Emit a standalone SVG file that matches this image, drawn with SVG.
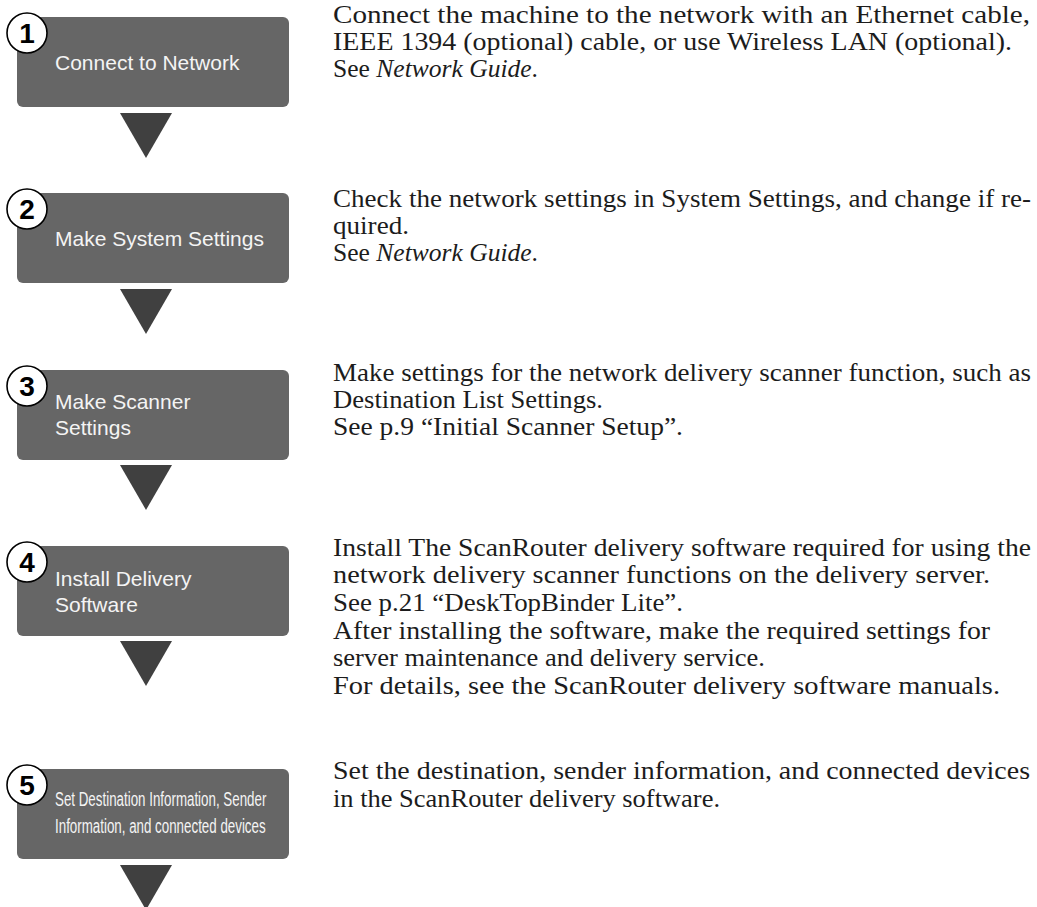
<svg xmlns="http://www.w3.org/2000/svg" width="1037" height="907" viewBox="0 0 1037 907">
<style>
.box{fill:#666666}
.tri{fill:#404040}
.num{fill:#ffffff;stroke:#000000;stroke-width:1.6}
.numt{font-family:"Liberation Sans",Arial,sans-serif;font-weight:bold;font-size:28px;fill:#000;text-anchor:middle}
.bt{font-family:"Liberation Sans",Arial,sans-serif;font-size:21px;fill:#f4f4f4}
.rt{font-family:"Liberation Serif","Times New Roman",serif;font-size:25.5px;fill:#1c1c1c}
.it{font-style:italic}
</style>
<rect width="1037" height="907" fill="#ffffff"/>
<g id="connectors">
<polygon class="tri" points="120,113 172,113 146,158"/>
<polygon class="tri" points="120,289 172,289 146,334"/>
<polygon class="tri" points="120,465 172,465 146,510"/>
<polygon class="tri" points="120,641 172,641 146,686"/>
<polygon class="tri" points="120,865 172,865 146,910"/>
</g>
<g id="step1">
<rect class="box" x="17" y="17" width="272" height="90" rx="6"/>
<circle class="num" cx="27" cy="33" r="20"/>
<text class="numt" x="27" y="43">1</text>
<text class="bt" x="55" y="70">Connect to Network</text>
</g>
<g id="step2">
<rect class="box" x="17" y="193" width="272" height="90" rx="6"/>
<circle class="num" cx="27" cy="209" r="20"/>
<text class="numt" x="27" y="219">2</text>
<text class="bt" x="55" y="246">Make System Settings</text>
</g>
<g id="step3">
<rect class="box" x="17" y="370" width="272" height="90" rx="6"/>
<circle class="num" cx="27" cy="386" r="20"/>
<text class="numt" x="27" y="396">3</text>
<text class="bt" x="55" y="409">Make Scanner</text>
<text class="bt" x="55" y="435">Settings</text>
</g>
<g id="step4">
<rect class="box" x="17" y="546" width="272" height="90" rx="6"/>
<circle class="num" cx="27" cy="562" r="20"/>
<text class="numt" x="27" y="572">4</text>
<text class="bt" x="55" y="586">Install Delivery</text>
<text class="bt" x="55" y="612">Software</text>
</g>
<g id="step5">
<rect class="box" x="17" y="769" width="272" height="90" rx="6"/>
<circle class="num" cx="27" cy="785" r="20"/>
<text class="numt" x="27" y="795">5</text>
<text class="bt" transform="translate(55,806) scale(0.636,1)" x="0" y="0">Set Destination Information, Sender</text>
<text class="bt" transform="translate(55,833) scale(0.636,1)" x="0" y="0">Information, and connected devices</text>
</g>
<g id="desc1">
<text class="rt" x="333" y="23" textLength="697" lengthAdjust="spacingAndGlyphs">Connect the machine to the network with an Ethernet cable,</text>
<text class="rt" x="333" y="50" textLength="679" lengthAdjust="spacingAndGlyphs">IEEE 1394 (optional) cable, or use Wireless LAN (optional).</text>
<text class="rt" x="333" y="77" textLength="205" lengthAdjust="spacingAndGlyphs">See <tspan class="it">Network Guide</tspan>.</text>
</g>
<g id="desc2">
<text class="rt" x="333" y="207" textLength="698" lengthAdjust="spacingAndGlyphs">Check the network settings in System Settings, and change if re-</text>
<text class="rt" x="333" y="234" textLength="76" lengthAdjust="spacingAndGlyphs">quired.</text>
<text class="rt" x="333" y="261" textLength="205" lengthAdjust="spacingAndGlyphs">See <tspan class="it">Network Guide</tspan>.</text>
</g>
<g id="desc3">
<text class="rt" x="333" y="381" textLength="698" lengthAdjust="spacingAndGlyphs">Make settings for the network delivery scanner function, such as</text>
<text class="rt" x="333" y="408" textLength="270" lengthAdjust="spacingAndGlyphs">Destination List Settings.</text>
<text class="rt" x="333" y="435" textLength="350" lengthAdjust="spacingAndGlyphs">See p.9 “Initial Scanner Setup”.</text>
</g>
<g id="desc4">
<text class="rt" x="333" y="556" textLength="698" lengthAdjust="spacingAndGlyphs">Install The ScanRouter delivery software required for using the</text>
<text class="rt" x="333" y="583" textLength="657" lengthAdjust="spacingAndGlyphs">network delivery scanner functions on the delivery server.</text>
<text class="rt" x="333" y="611" textLength="350" lengthAdjust="spacingAndGlyphs">See p.21 “DeskTopBinder Lite”.</text>
<text class="rt" x="333" y="639" textLength="657" lengthAdjust="spacingAndGlyphs">After installing the software, make the required settings for</text>
<text class="rt" x="333" y="666" textLength="432" lengthAdjust="spacingAndGlyphs">server maintenance and delivery service.</text>
<text class="rt" x="333" y="694" textLength="667" lengthAdjust="spacingAndGlyphs">For details, see the ScanRouter delivery software manuals.</text>
</g>
<g id="desc5">
<text class="rt" x="333" y="779" textLength="697" lengthAdjust="spacingAndGlyphs">Set the destination, sender information, and connected devices</text>
<text class="rt" x="333" y="807" textLength="387" lengthAdjust="spacingAndGlyphs">in the ScanRouter delivery software.</text>
</g>
</svg>
